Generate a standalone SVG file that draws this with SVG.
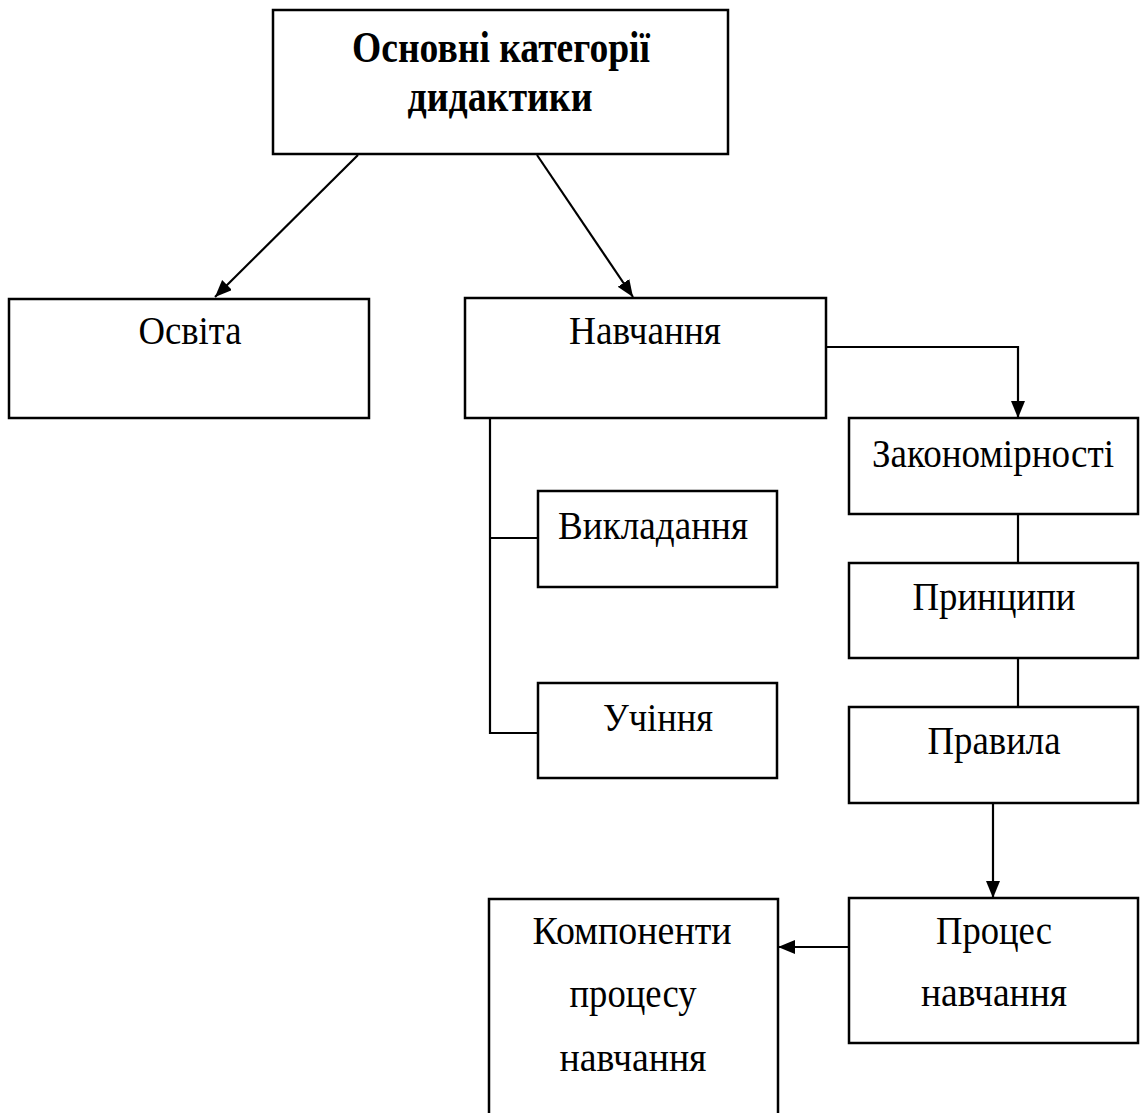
<svg xmlns="http://www.w3.org/2000/svg" width="1141" height="1113" viewBox="0 0 1141 1113">
<defs>
<style>
.box{fill:#fff;stroke:#000;stroke-width:2.5}
.ln{fill:none;stroke:#000;stroke-width:2.2}
.t{font-family:"Liberation Serif","Times New Roman",serif;font-size:40px;fill:#000;text-anchor:middle}
.b{font-weight:bold;font-size:44px}
</style>
<marker id="ah" markerUnits="userSpaceOnUse" markerWidth="18" markerHeight="16" refX="17" refY="7" orient="auto">
<path d="M0,0 L17,7 L0,14 Z" fill="#000"/>
</marker>
</defs>
<rect width="1141" height="1113" fill="#fff"/>
<g id="connectors">
<line class="ln" x1="358" y1="155" x2="215" y2="297" marker-end="url(#ah)"/>
<line class="ln" x1="537" y1="155" x2="633" y2="297" marker-end="url(#ah)"/>
<path class="ln" d="M826,347 H1018 V418" marker-end="url(#ah)"/>
<path class="ln" d="M490,419 V733 H538 M490,538 H538"/>
<path class="ln" d="M1018,514 V563 M1018,658 V707"/>
<path class="ln" d="M993,803 V898" marker-end="url(#ah)"/>
<path class="ln" d="M849,947 H778" marker-end="url(#ah)"/>
</g>
<g id="n-osnovni">
<rect class="box" x="273" y="10" width="455" height="144"/>
<text class="t b" x="501" y="62" textLength="298" lengthAdjust="spacingAndGlyphs">Основні категорії</text>
<text class="t b" x="500" y="111" textLength="185" lengthAdjust="spacingAndGlyphs">дидактики</text>
</g>
<g id="n-osvita">
<rect class="box" x="9" y="299" width="360" height="119"/>
<text class="t" x="190" y="344" textLength="103" lengthAdjust="spacingAndGlyphs">Освіта</text>
</g>
<g id="n-navchannia">
<rect class="box" x="465" y="298" width="361" height="120"/>
<text class="t" x="645" y="344" textLength="152" lengthAdjust="spacingAndGlyphs">Навчання</text>
</g>
<g id="n-zakonomirnosti">
<rect class="box" x="849" y="418" width="289" height="96"/>
<text class="t" x="993" y="467" textLength="242" lengthAdjust="spacingAndGlyphs">Закономірності</text>
</g>
<g id="n-vykladannia">
<rect class="box" x="538" y="491" width="239" height="96"/>
<text class="t" x="653" y="539" textLength="190" lengthAdjust="spacingAndGlyphs">Викладання</text>
</g>
<g id="n-uchinnia">
<rect class="box" x="538" y="683" width="239" height="95"/>
<text class="t" x="658" y="731" textLength="110" lengthAdjust="spacingAndGlyphs">Учіння</text>
</g>
<g id="n-pryntsypy">
<rect class="box" x="849" y="563" width="289" height="95"/>
<text class="t" x="994" y="610" textLength="163" lengthAdjust="spacingAndGlyphs">Принципи</text>
</g>
<g id="n-pravyla">
<rect class="box" x="849" y="707" width="289" height="96"/>
<text class="t" x="994" y="754" textLength="133" lengthAdjust="spacingAndGlyphs">Правила</text>
</g>
<g id="n-protses">
<rect class="box" x="849" y="898" width="289" height="145"/>
<text class="t" x="994" y="944" textLength="116" lengthAdjust="spacingAndGlyphs">Процес</text>
<text class="t" x="994" y="1006" textLength="146" lengthAdjust="spacingAndGlyphs">навчання</text>
</g>
<g id="n-komponenty">
<rect class="box" x="489" y="899" width="289" height="230"/>
<text class="t" x="632" y="944" textLength="199" lengthAdjust="spacingAndGlyphs">Компоненти</text>
<text class="t" x="633" y="1007" textLength="127" lengthAdjust="spacingAndGlyphs">процесу</text>
<text class="t" x="633" y="1071" textLength="147" lengthAdjust="spacingAndGlyphs">навчання</text>
</g>
</svg>
